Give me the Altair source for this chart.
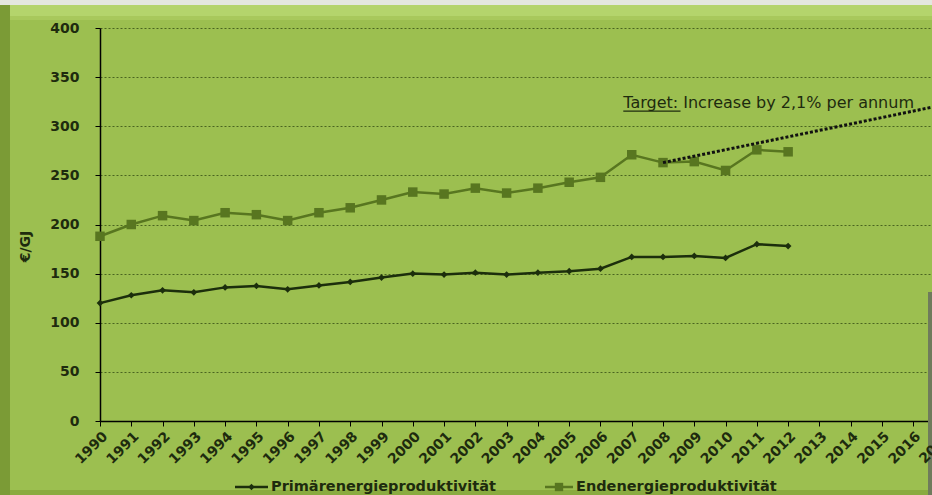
import altair as alt
import pandas as pd

# Energy productivity in Germany (EUR per GJ)
years = list(range(1990, 2013))
primaer = [120, 128, 133, 131, 136, 137.5, 134, 138, 141.5, 146, 150, 149, 151,
           149, 151, 152.5, 155, 167, 167, 168, 166, 180, 178]
enden = [188, 200, 209, 204, 212, 210, 204, 212, 217, 225, 233, 231, 237,
         232, 237, 243, 248, 271, 263, 264, 255, 276, 274]

series_names = ["Primärenergieproduktivität", "Endenergieproduktivität"]
series_colors = ["#1c2e0c", "#587620"]
series_shapes = ["diamond", "square"]

target_years = [2008, 2017]
target_values = [263, 322]
target_label = "Target: Increase by 2,1% per annum"
target_label_pos = (2006.73, 319)
target_underline = (2006.73, 2008.56, 315.4)

tick_years = list(range(1990, 2017))
extra_tick_year = 2017
y_ticks = list(range(0, 401, 50))

FONT = "DejaVu Sans"
BG = "#9cbf50"
INK = "#1e2b0e"

long_df = pd.DataFrame(
    {"year": years * 2,
     "value": primaer + enden,
     "series": [series_names[0]] * len(years) + [series_names[1]] * len(years)}
)
target_df = pd.DataFrame({"year": target_years, "value": target_values})
dummy = pd.DataFrame({"d": [0]})

x_scale = alt.Scale(domain=[1990, 2016.6], nice=False, zero=False)
y_scale = alt.Scale(domain=[0, 400], nice=False)

x_axis = alt.Axis(values=tick_years, format="d", labelAngle=-45, labelAlign="right",
                  labelBaseline="top", labelFlush=False, labelOverlap=False,
                  labelPadding=3, labelFont=FONT, labelFontWeight="bold",
                  labelFontSize=14, labelColor=INK, grid=False, tickSize=5,
                  tickColor="black", domainColor="black", domainWidth=1.5, title=None)
y_axis = alt.Axis(values=y_ticks, grid=True, gridColor="#4a6420", gridDash=[2, 2],
                  gridWidth=1, domainColor="black", domainWidth=1.5, tickColor="black",
                  tickSize=5, labelPadding=16, labelFont=FONT, labelFontWeight="bold",
                  labelFontSize=14, labelColor=INK, title="€/GJ", titleAngle=-90,
                  titleX=-68, titleY=218, titleFont=FONT, titleFontSize=14,
                  titleFontWeight="bold", titleColor=INK)


def X(field):
    return alt.X(field, type="quantitative", scale=x_scale, axis=x_axis)


def Y(field):
    return alt.Y(field, type="quantitative", scale=y_scale, axis=y_axis)


color_scale = alt.Scale(domain=series_names, range=series_colors)


# Beveled frame around the chart
def band(x1, x2, y1, y2, color):
    return alt.Chart(dummy).mark_rect(color=color, clip=False).encode(
        x=alt.value(x1), x2=alt.value(x2), y=alt.value(y1), y2=alt.value(y2))


frame = [
    band(-100, 832, -28, -23, "#e4e7df"),
    band(-90, 832, -23, -12, "#b4d46c"),
    band(-90, 832, -12, -8, "#a8c85c"),
    band(-100, -90, -23, 467, "#7b9b36"),
    band(-90, 832, 462, 467, "#8aab40"),
    band(828, 832, 264, 467, "#6f7b5c"),
]

lines = alt.Chart(long_df).mark_line(strokeWidth=2.5).encode(
    x=X("year"),
    y=Y("value"),
    color=alt.Color("series:N", scale=color_scale, legend=None),
)

points = alt.Chart(long_df).mark_point(filled=True, opacity=1).encode(
    x=X("year"),
    y=Y("value"),
    color=alt.Color("series:N", scale=color_scale, legend=None),
    shape=alt.Shape("series:N", scale=alt.Scale(domain=series_names,
                                                 range=series_shapes),
                    legend=None),
    size=alt.Size("series:N", scale=alt.Scale(domain=series_names, range=[45, 90]),
                  legend=None),
)

target = alt.Chart(target_df).mark_line(
    color="#111111", strokeWidth=3, strokeDash=[3, 2], clip=True
).encode(x=X("year"), y=Y("value"))

label_df = pd.DataFrame({"year": [target_label_pos[0]], "value": [target_label_pos[1]],
                         "text": [target_label]})
label = alt.Chart(label_df).mark_text(
    align="left", baseline="alphabetic", font=FONT, fontSize=16, color=INK
).encode(x=X("year"), y=Y("value"), text="text:N")

uline_df = pd.DataFrame({"x1": [target_underline[0]], "x2": [target_underline[1]],
                         "value": [target_underline[2]]})
underline = alt.Chart(uline_df).mark_rule(color=INK, strokeWidth=1.2).encode(
    x=X("x1"), x2="x2:Q", y=Y("value"))

# Last year label, cut by the right edge of the chart
edge_df = pd.DataFrame({"year": [extra_tick_year], "text": [str(extra_tick_year)]})
edge_label = alt.Chart(edge_df).mark_text(
    angle=315, align="right", baseline="top", font=FONT, fontSize=14,
    fontWeight="bold", color=INK, clip=False
).encode(x=X("year"), y=alt.value(401), text="text:N")
edge_tick = alt.Chart(edge_df).mark_rule(color="black", clip=False).encode(
    x=X("year"), y=alt.value(393), y2=alt.value(398))


# Legend entries drawn below the plot: line, marker, name
def legend_entry(i, x0, width):
    entry = pd.DataFrame({"series": [series_names[i]]})
    line = alt.Chart(entry).mark_rule(
        color=series_colors[i], strokeWidth=2.5, clip=False
    ).encode(x=alt.value(x0), x2=alt.value(x0 + width), y=alt.value(459))
    marker = alt.Chart(entry).mark_point(
        shape=series_shapes[i], filled=True, color=series_colors[i],
        size=40 if i == 0 else 70, opacity=1, clip=False
    ).encode(x=alt.value(x0 + width / 2), y=alt.value(459))
    text = alt.Chart(entry).mark_text(
        align="left", baseline="middle", font=FONT, fontSize=14.5,
        fontWeight="bold", color=INK, clip=False
    ).encode(x=alt.value(x0 + width + 3), y=alt.value(459), text="series:N")
    return [line, marker, text]


legend = legend_entry(0, 135, 33) + legend_entry(1, 445, 28)

chart = alt.layer(
    *frame, lines, points, target, label, underline, edge_tick, edge_label, *legend
).resolve_scale(
    shape="independent"
).properties(
    width=832, height=393, background=BG,
    padding={"left": 100, "top": 28, "right": 0, "bottom": 74},
    autosize=alt.AutoSizeParams(type="none"),
).configure_view(
    stroke=None, fill=BG
)

chart.save("out.html", embed_options={"renderer": "svg", "actions": False})
